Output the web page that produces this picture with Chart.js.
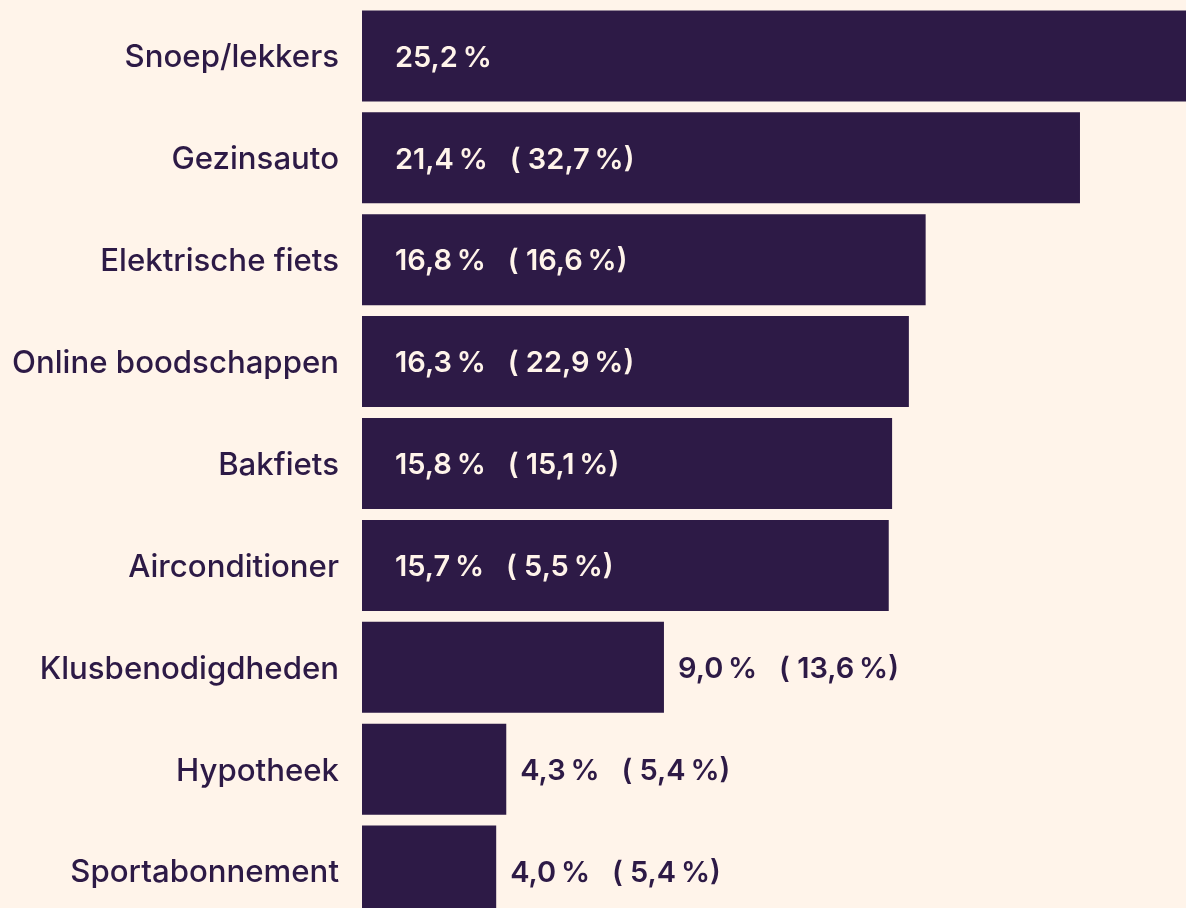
<!DOCTYPE html>
<html>
<head>
<meta charset="utf-8">
<script src="https://cdn.jsdelivr.net/npm/chart.js@4"></script>
<style>
  html, body { margin: 0; padding: 0; background: #FFF4EA; overflow: hidden; width: 1186px; height: 908px; }
  #c { position: absolute; left: 0; top: 5px; }
</style>
</head>
<body>
<canvas id="c" width="1186" height="917"></canvas>
<script>
const categories = ["Snoep/lekkers", "Gezinsauto", "Elektrische fiets", "Online boodschappen", "Bakfiets", "Airconditioner", "Klusbenodigdheden", "Hypotheek", "Sportabonnement"];
const values = [25.2, 21.4, 16.8, 16.3, 15.8, 15.7, 9.0, 4.3, 4.0];
const previous = [null, 32.7, 16.6, 22.9, 15.1, 5.5, 13.6, 5.4, 5.4];

const DARK = '#2D1A46';
const LIGHT = '#FFF4EA';

function fmt(v) { return v.toFixed(1).replace('.', ',') + '\u2009%'; }

const labelPlugin = {
  id: 'valueLabels',
  afterDatasetsDraw(chart) {
    const ctx = chart.ctx;
    const meta = chart.getDatasetMeta(0);
    ctx.save();
    ctx.font = '600 29px Inter';
    ctx.textBaseline = 'middle';
    ctx.textAlign = 'left';
    meta.data.forEach((bar, i) => {
      let txt = fmt(values[i]);
      if (previous[i] !== null) txt += '   ( ' + fmt(previous[i]) + ')';
      let x, color;
      if (values[i] >= 15) { x = bar.base + 33; color = LIGHT; }
      else { x = bar.x + 14; color = DARK; }
      ctx.fillStyle = color;
      ctx.fillText(txt, x, bar.y + 2);
    });
    ctx.restore();
  }
};

new Chart(document.getElementById('c'), {
  type: 'bar',
  data: {
    labels: categories,
    datasets: [{
      data: values,
      backgroundColor: DARK,
      borderWidth: 0,
      barPercentage: 0.893,
      categoryPercentage: 1.0
    }]
  },
  options: {
    indexAxis: 'y',
    responsive: false,
    animation: false,
    layout: { padding: 0 },
    plugins: { legend: { display: false }, tooltip: { enabled: false } },
    scales: {
      x: { display: false, min: 0, max: 24.56 },
      y: {
        grid: { display: false, drawTicks: false },
        border: { display: false },
        ticks: { color: DARK, font: { family: 'Inter', size: 31.2, weight: '500' }, padding: 23, labelOffset: 2 },
        afterFit(scale) { scale.width = 362; scale.paddingTop = 0; scale.paddingBottom = 0; }
      }
    }
  },
  plugins: [labelPlugin]
});
</script>
</body>
</html>
